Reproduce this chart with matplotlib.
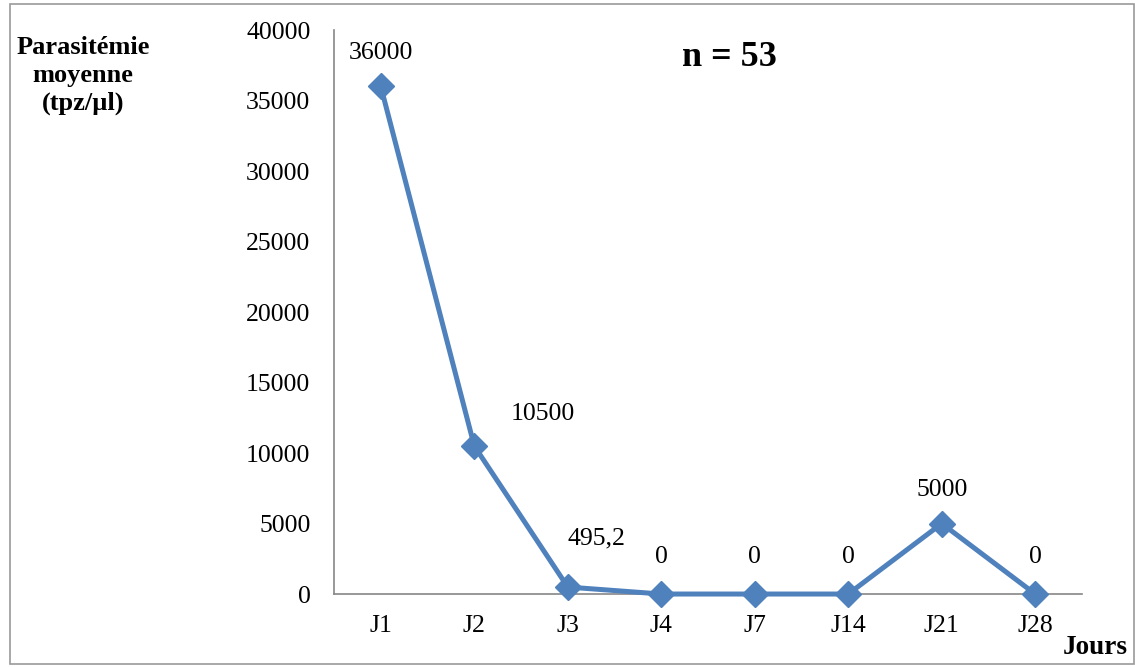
import matplotlib.pyplot as plt
from matplotlib.patches import Rectangle

plt.rcParams['font.family'] = ['Liberation Serif', 'DejaVu Serif']

# Mean parasitaemia per follow-up day
jours = ['J1', 'J2', 'J3', 'J4', 'J7', 'J14', 'J21', 'J28']
parasitemie = [36000, 10500, 495.2, 0, 0, 0, 5000, 0]
etiquettes = ['36000', '10500', '495,2', '0', '0', '0', '5000', '0']
# label offsets in points (dx, dy)
decalages = [(0, 24), (49, 23), (21, 35), (0, 27), (0, 27), (0, 27), (0, 24), (0, 27)]

fig = plt.figure(figsize=(11.35, 6.67), dpi=100)
ax = fig.add_axes([0.2943, 0.1094, 0.659, 0.8456])

x = list(range(len(jours)))
ax.plot(x, parasitemie, color='#4F81BD', lw=3.6, marker='D', ms=13,
        clip_on=False, zorder=3)

for xi, yi, lab, (dx, dy) in zip(x, parasitemie, etiquettes, decalages):
    ax.annotate(lab, xy=(xi, yi), xytext=(dx, dy), textcoords='offset points',
                ha='center', va='center', fontsize=18.5)

ax.set_xlim(-0.5, len(jours) - 0.5)
ax.set_ylim(0, 40000)
ax.set_yticks(range(0, 40001, 5000))
ax.set_xticks(x)
ax.set_xticklabels(jours)
ax.tick_params(length=0, labelsize=18.5, colors='black')
ax.tick_params(axis='y', pad=17)
ax.tick_params(axis='x', pad=15)
for s in ['top', 'right']:
    ax.spines[s].set_visible(False)
for s in ['left', 'bottom']:
    ax.spines[s].set_color('#868686')
    ax.spines[s].set_linewidth(1.2)

fig.text(0.073, 0.887, 'Parasitémie\nmoyenne\n(tpz/µl)', ha='center', va='center',
         fontsize=19, fontweight='bold', linespacing=1.25)
fig.text(0.965, 0.0285, 'Jours', ha='center', va='center',
         fontsize=19.5, fontweight='bold')
fig.text(0.643, 0.9145, 'n = 53', ha='center', va='center',
         fontsize=26, fontweight='bold')

# outer frame
fig.patches.append(Rectangle((0.009, 0.004), 0.99, 0.99, transform=fig.transFigure,
                             fill=False, edgecolor='#9a9a9a', lw=1.2))

fig.savefig('out.png', dpi=100)
